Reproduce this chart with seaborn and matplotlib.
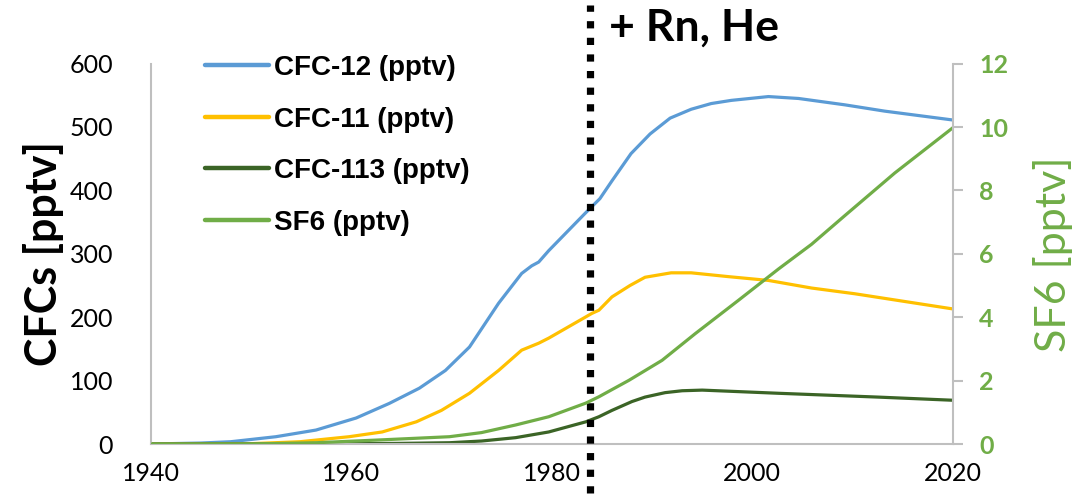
import matplotlib
matplotlib.use("Agg")
import matplotlib.pyplot as plt
import seaborn as sns
import numpy as np

# ---- data ----
cfc12_years = [1940, 1945, 1948, 1952.5, 1956.5, 1960.5, 1963.8, 1966.8, 1969.4, 1971.8, 1974.7,
               1977, 1978, 1978.7, 1979.7, 1983.4, 1984.8, 1986, 1987.9, 1989.8, 1991.8, 1993.9,
               1995.9, 1997.9, 2001.6, 2004.6, 2009.2, 2013.2, 2020]
cfc12_vals = [0, 1.5, 3.6, 11.5, 22, 41, 64, 88, 116, 153, 222,
              269, 281, 287, 305, 365, 387, 415, 458, 489, 514, 528,
              537, 542, 548, 545, 535, 525, 511]

cfc11_years = [1940, 1950, 1954.9, 1959.8, 1963.1, 1966.5, 1969, 1971.8, 1974.7, 1977, 1978.7,
               1979.7, 1984, 1984.7, 1986, 1987.8, 1989.3, 1991.9, 1993.9, 1997.6, 2001.6,
               2005.9, 2010.2, 2020]
cfc11_vals = [0, 0.5, 3.6, 11.5, 19, 35, 53, 80, 116, 148, 159,
              167, 206, 211, 232, 250, 263, 270, 270, 264, 258,
              246, 237, 213]

cfc113_years = [1940, 1955, 1960, 1965, 1969.8, 1973, 1976.4, 1979.7, 1983.4, 1984.7, 1986,
                1987, 1988, 1989.3, 1991.3, 1993, 1995, 2002.6, 2012.5, 2020]
cfc113_vals = [0, 0, 0.5, 1, 2, 4.7, 10, 19, 35, 43, 53,
               60, 67, 74, 81, 84, 85, 80, 74, 69]

sf6_years = [1940, 1950, 1956.5, 1963, 1969.8, 1973, 1976.4, 1979.7, 1983.4, 1984.7, 1987.7,
             1991, 1994.3, 1998.6, 2002.6, 2005.9, 2009.2, 2014.2, 2020]
sf6_vals = [0, 0, 0.04, 0.13, 0.23, 0.36, 0.6, 0.86, 1.29, 1.49, 2.01,
            2.64, 3.48, 4.53, 5.52, 6.3, 7.2, 8.55, 9.98]

x_ticks = [1940, 1960, 1980, 2000, 2020]
left_ticks = [0, 100, 200, 300, 400, 500, 600]
right_ticks = [0, 2, 4, 6, 8, 10, 12]
marker_year = 1983.8

labels = ["CFC-12 (pptv)", "CFC-11 (pptv)", "CFC-113 (pptv)", "SF6 (pptv)"]
colors = ["#5B9BD5", "#FFC000", "#3B6426", "#70AD47"]

# ---- style ----
sns.set_theme(style="white")
plt.rcParams['font.family'] = ['Lato', 'DejaVu Sans']

fig = plt.figure(figsize=(10.79, 5.0), dpi=100)
ax = fig.add_axes([150.5 / 1079, 1 - 444 / 500, 802.5 / 1079, (444 - 63.6) / 500])
ax2 = ax.twinx()

lw = 2.3
sns.lineplot(x=cfc12_years, y=cfc12_vals, ax=ax, color=colors[0], lw=lw, label=labels[0], legend=False)
sns.lineplot(x=cfc11_years, y=cfc11_vals, ax=ax, color=colors[1], lw=lw, label=labels[1], legend=False)
sns.lineplot(x=cfc113_years, y=cfc113_vals, ax=ax, color=colors[2], lw=lw, label=labels[2], legend=False)
sns.lineplot(x=sf6_years, y=sf6_vals, ax=ax2, color=colors[3], lw=lw, label=labels[3], legend=False)

ax.set_xlim(1940, 2020)
ax.set_ylim(0, 600)
ax2.set_ylim(0, 12)

ax.set_xticks(x_ticks)
ax.set_yticks(left_ticks)
ax2.set_yticks(right_ticks)

spine_c = "#BFBFBF"
for a in (ax, ax2):
    for s in a.spines.values():
        s.set_visible(False)
ax.spines['left'].set_visible(True)
ax.spines['bottom'].set_visible(True)
ax2.spines['right'].set_visible(True)
for s in (ax.spines['left'], ax.spines['bottom'], ax2.spines['right']):
    s.set_color(spine_c)
    s.set_linewidth(1.5)

ax.tick_params(axis='x', length=0, pad=13, labelsize=18, labelcolor='black')
ax.tick_params(axis='y', length=0, pad=27, labelsize=18, labelcolor='black')
ax2.tick_params(axis='y', length=7, width=1.5, color=spine_c, pad=12, labelsize=18,
                labelcolor=colors[3])
for t in ax2.get_yticklabels():
    t.set_fontweight('bold')

ax.set_xlabel("")
ax.set_ylabel("CFCs [pptv]", fontsize=31, fontweight='bold', color='black', labelpad=4)
ax2.set_ylabel("SF6 [pptv]", fontsize=31, color=colors[3], labelpad=18)
ax.grid(False)
ax2.grid(False)

# dotted marker line
ax.axvline(marker_year, ymin=-0.13, ymax=1.155, clip_on=False, color='black', lw=5.2,
           linestyle=(0, (1, 1.3)), dash_capstyle='butt', zorder=10)
ax.text(marker_year + 1.9, 1.095, "+ Rn, He", transform=ax.get_xaxis_transform(),
        fontsize=32, fontweight='bold', ha='left', va='center', color='black', clip_on=False)

# legend
h1, l1 = ax.get_legend_handles_labels()
h2, l2 = ax2.get_legend_handles_labels()
leg = ax.legend(h1 + h2, l1 + l2, loc='upper left', bbox_to_anchor=(205 / 1079, 1 - 55 / 500),
                bbox_transform=fig.transFigure, frameon=False,
                prop={'family': 'Liberation Sans', 'weight': 'bold', 'size': 20},
                handlelength=2.3, handletextpad=0.2, labelspacing=0.92, borderpad=0, borderaxespad=0,
                labelcolor='black')
for line in leg.get_lines():
    line.set_linewidth(3.2)
    line.set_solid_capstyle('round')

fig.savefig("out.png", dpi=100)
